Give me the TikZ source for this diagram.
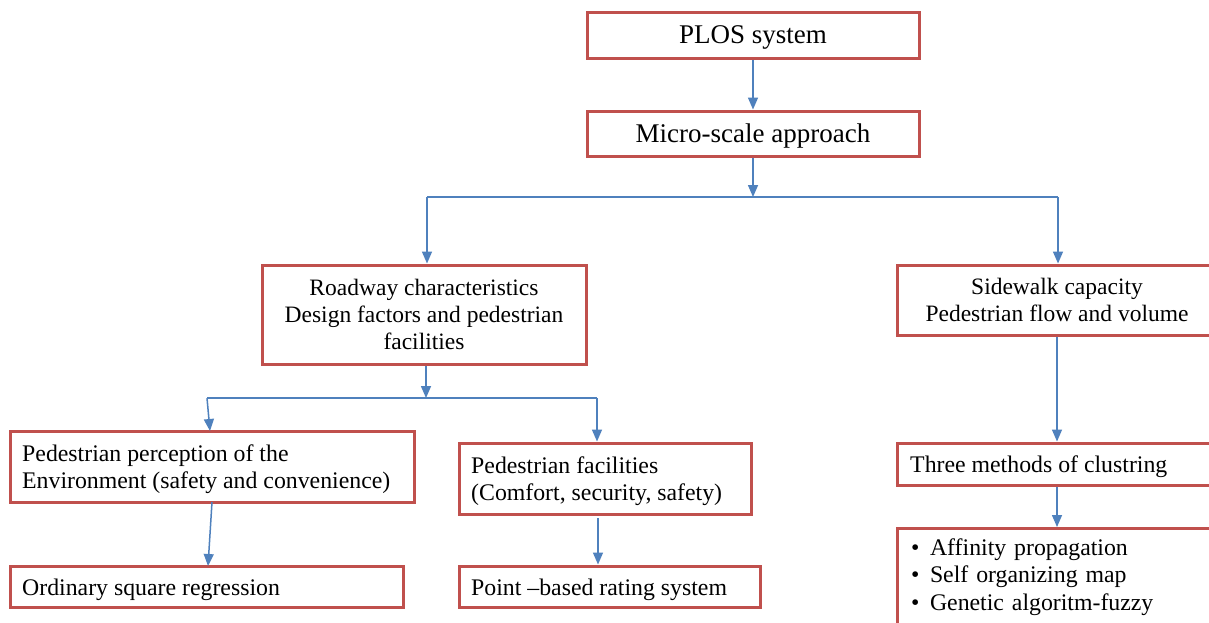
\documentclass[tikz,border=0pt]{standalone}
\usepackage{fontspec}
\setmainfont{Liberation Serif}
\usetikzlibrary{arrows.meta}
\definecolor{boxred}{HTML}{C0504D}
\definecolor{linkblue}{HTML}{4F81BD}
\tikzset{
  boxbase/.style={draw=boxred, line width=3pt, fill=white, rectangle, inner sep=0pt,
    font=\fontsize{23.5}{27}\selectfont, align=center},
  box/.style={boxbase, text depth=0pt},
  bigbox/.style={box, font=\fontsize{27}{31}\selectfont},
  frame/.style={draw=boxred, line width=3pt, fill=white, rectangle, inner sep=0pt},
  lefttext/.style={anchor=west, inner sep=0pt, align=left, font=\fontsize{23.8}{27}\selectfont},
  link/.style={draw=linkblue, line width=1.5pt, -{Triangle[length=12pt,width=10pt]}},
  plain/.style={draw=linkblue, line width=1.5pt}
}
\begin{document}
\begin{tikzpicture}[x=1pt, y=-1pt]
\useasboundingbox (0,0) rectangle (1209,622);
\clip (0,0) rectangle (1209,622);
\fill[white] (0,0) rectangle (1209,622);

% top of the hierarchy
\node[bigbox, minimum width=332pt, minimum height=46pt] (plos) at (753,35) {PLOS system};
\node[bigbox, minimum width=332pt, minimum height=45pt] (micro) at (753,133.5) {Micro-scale approach};

% second level
\node[box, minimum width=324pt, minimum height=99pt] (road) at (424,314.5)
  {Roadway characteristics\\Design factors and pedestrian\\facilities};
\node[box, minimum width=320pt, minimum height=70pt] (side) at (1057,300)
  {Sidewalk capacity\\Pedestrian flow and volume};

% third level: frames, then their left-aligned texts
\node[frame, minimum width=404pt, minimum height=71pt] (perc) at (212,466.5) {};
\node[lefttext] (perc-text) at ([xshift=13.5pt, yshift=-3pt]perc.west)
  {Pedestrian perception of the\\Environment (safety and convenience)};
\node[frame, minimum width=292pt, minimum height=71pt] (fac) at (605,478.5) {};
\node[lefttext] (fac-text) at ([xshift=13.5pt, yshift=-3pt]fac.west)
  {Pedestrian facilities\\(Comfort, security, safety)};
\node[frame, minimum width=320pt, minimum height=42pt] (three) at (1057,464) {};
\node[lefttext] (three-text) at ([xshift=14.5pt, yshift=-3pt]three.west)
  {Three methods of clustring};

% methods
\node[frame, minimum width=393pt, minimum height=41pt] (ols) at (206.5,586.5) {};
\node[lefttext] (ols-text) at ([xshift=13.5pt, yshift=-3pt]ols.west)
  {Ordinary square regression};
\node[frame, minimum width=301pt, minimum height=41pt] (pbr) at (609.5,586.5) {};
\node[lefttext] (pbr-text) at ([xshift=13.5pt, yshift=-3pt]pbr.west)
  {Point --based rating system};
\node[boxbase, align=left, anchor=north, minimum width=320pt, inner ysep=10pt, text width=292pt,
  font=\fontsize{23.8}{27.5}\selectfont] (meth) at (1057,527)
  {\makebox[19pt][l]{\textbullet}Affinity propagation\\
   \makebox[19pt][l]{\textbullet}Self organizing map\\
   \makebox[19pt][l]{\textbullet}Genetic algoritm-fuzzy};

% junction points of the branching connectors
\coordinate (ja) at (753,197);
\coordinate (jal) at (427,197);
\coordinate (jar) at (1058,197);
\coordinate (jb) at (426,398);
\coordinate (jbl) at (207,398);
\coordinate (jbr) at (597,398);
\coordinate (perclow) at (212,502);
\coordinate (olstop) at (208,566);
\coordinate (faclow) at (598,518);

% connectors
\draw[link] (plos.south) -- (micro.north);
\draw[link] (micro.south) -- (ja);
\draw[plain] (jal) -- (jar);
\draw[link] (jal) -- (jal |- road.north);
\draw[link] (jar) -- (jar |- side.north);

\draw[link] (road.south -| jb) -- (jb);
\draw[plain] (jbl) -- (jbr);
\draw[link] (jbl) -- (210,431);
\draw[link] (jbr) -- (jbr |- fac.north);

\draw[link] (perclow) -- (olstop);
\draw[link] (faclow) -- (faclow |- pbr.north);
\draw[link] (side.south) -- (three.north);
\draw[link] (three.south) -- (meth.north);
\end{tikzpicture}
\end{document}
